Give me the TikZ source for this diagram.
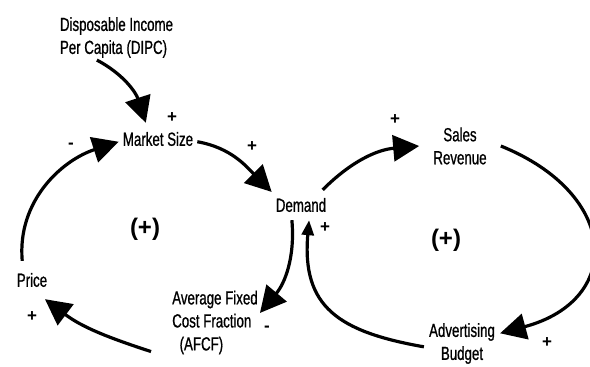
\documentclass[tikz,border=0pt]{standalone}
\usepackage{fontspec}
\setmainfont[FakeStretch=0.7,FakeBold=0.8]{Liberation Sans}
\newfontfamily\loopfont{Liberation Sans}
\usetikzlibrary{calc,arrows.meta,positioning}
\begin{document}
\begin{tikzpicture}[x=1pt,y=1pt,
  var/.style={font=\fontsize{19}{23}\selectfont,inner sep=2pt},
  sgn/.style={font=\loopfont\bfseries\fontsize{17}{17}\selectfont,inner sep=0pt},
  loop/.style={font=\loopfont\bfseries\fontsize{24}{24}\selectfont,inner sep=0pt},
  link/.style={line width=3.2pt,-{Triangle[length=26pt,width=26pt]}},
  small link/.style={line width=3.2pt,-{Triangle[length=15pt,width=12pt]}}]
  \useasboundingbox (0,0) rectangle (590,367);
  \node[var,align=left] (dipc) at (116.5,329.5) {Disposable Income\\Per Capita (DIPC)};
  \node[var,inner xsep=4pt,inner ysep=9pt] (msize) at (158,228) {Market Size};
  \node[var,inner xsep=4pt,inner ysep=8pt] (demand) at (301,162) {Demand};
  \node[var,align=center,inner xsep=14pt] (sales) at (460,221) {Sales\\Revenue};
  \node[var,inner xsep=3pt,inner ysep=12pt] (price) at (32,87) {Price};
  \node[var,align=left] (afcf) at (215,44.5) {Average Fixed\\Cost Fraction\\\ \ (AFCF)};
  \node[var,align=center,inner xsep=5pt] (adbud) at (462,23.5) {Advertising\\Budget};

  \node[loop] (lpa) at (145,138) {(+)};
  \node[loop] (lpb) at (446,127) {(+)};

  \node[sgn] (s1) at (172,249) {+};
  \node[sgn] (s2) at (71,221) {-};
  \node[sgn] (s3) at (252,220) {+};
  \node[sgn] (s4) at (395,247) {+};
  \node[sgn] (s5) at (325,139) {+};
  \node[sgn] (s6) at (267,38) {-};
  \node[sgn] (s7) at (32,50) {+};
  \node[sgn] (s8) at (547,24) {+};

  \draw[link] (dipc.229) to[out=-28,in=108] (msize.127);
  \draw[link] (msize.-4) to[out=-10,in=135] (demand.156);
  \draw[link] (demand.35) to[out=45,in=185] (sales.180);
  \draw[link] (sales.0) to[out=-22,in=15,looseness=1.75] (adbud.15);
  \draw[small link] (adbud.185) to[out=170,in=-95,looseness=1.3] (demand.298);
  \draw[link] (demand.239) to[out=-85,in=50] (afcf.12);
  \draw[link] ($(afcf.south west)+(-19,5)$) to[out=162,in=-37] (price.-56);
  \draw[link] (price.117) to[out=95,in=198] (msize.184);
\end{tikzpicture}
\end{document}
